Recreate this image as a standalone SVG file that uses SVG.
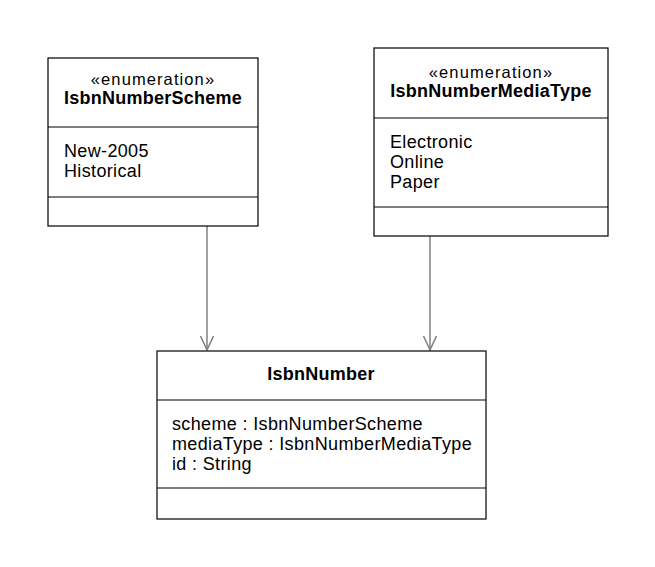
<svg xmlns="http://www.w3.org/2000/svg" width="655" height="567" viewBox="0 0 655 567">
<style>
.box{fill:#fff;stroke:#000;stroke-width:1.2}
.sep{stroke:#000;stroke-width:1.2}
text{font-family:"Liberation Sans",Arial,sans-serif;fill:#000}
.st{font-size:16.5px;letter-spacing:1.1px}
.nm{font-size:18px;font-weight:bold;letter-spacing:0.25px}
.at{font-size:18px;letter-spacing:0.35px}
.c{stroke:#808080;stroke-width:1.5;fill:none}
</style>
<defs>
<marker id="open" markerWidth="16" markerHeight="16" refX="14" refY="7" orient="auto" markerUnits="userSpaceOnUse">
<path d="M0,0.5 L14,7 L0,13.5" fill="none" stroke="#808080" stroke-width="1.5"/>
</marker>
</defs>
<rect width="655" height="567" fill="#fff"/>
<g id="connectors">
<line class="c" x1="207" y1="226" x2="207" y2="350" marker-end="url(#open)"/>
<line class="c" x1="430" y1="236" x2="430" y2="350" marker-end="url(#open)"/>
</g>
<g id="IsbnNumberScheme">
<rect class="box" x="48" y="58" width="210" height="168"/>
<line class="sep" x1="48" y1="127" x2="258" y2="127"/>
<line class="sep" x1="48" y1="197" x2="258" y2="197"/>
<text class="st" x="153" y="85" text-anchor="middle">«enumeration»</text>
<text class="nm" x="153" y="104" text-anchor="middle">IsbnNumberScheme</text>
<text class="at" x="64" y="157">New-2005</text>
<text class="at" x="64" y="177">Historical</text>
</g>
<g id="IsbnNumberMediaType">
<rect class="box" x="374" y="48" width="234" height="188"/>
<line class="sep" x1="374" y1="118" x2="608" y2="118"/>
<line class="sep" x1="374" y1="207" x2="608" y2="207"/>
<text class="st" x="491" y="78" text-anchor="middle">«enumeration»</text>
<text class="nm" x="491" y="97" text-anchor="middle">IsbnNumberMediaType</text>
<text class="at" x="390" y="148">Electronic</text>
<text class="at" x="390" y="168">Online</text>
<text class="at" x="390" y="188">Paper</text>
</g>
<g id="IsbnNumber">
<rect class="box" x="157" y="351" width="329" height="168"/>
<line class="sep" x1="157" y1="400" x2="486" y2="400"/>
<line class="sep" x1="157" y1="488" x2="486" y2="488"/>
<text class="nm" x="321" y="380" text-anchor="middle">IsbnNumber</text>
<text class="at" x="172" y="430">scheme : IsbnNumberScheme</text>
<text class="at" x="172" y="450">mediaType : IsbnNumberMediaType</text>
<text class="at" x="172" y="470">id : String</text>
</g>
</svg>
